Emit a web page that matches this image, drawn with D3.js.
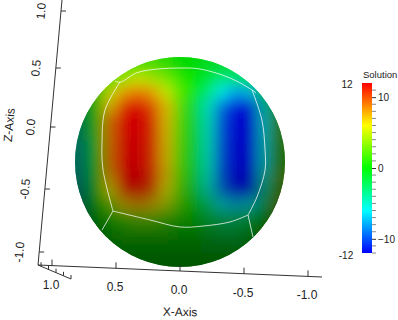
<!DOCTYPE html>
<html>
<head>
<meta charset="utf-8">
<script src="https://cdn.jsdelivr.net/npm/d3@7"></script>
<style>
html, body { margin: 0; padding: 0; background: #fff; }
text { font-family: "Liberation Sans", Arial, sans-serif; fill: #222; }
</style>
</head>
<body>
<svg id="chart" width="398" height="320"></svg>
<script>
const solution = [
  [1, 1, 1, 1, 2, 2, 1, 0, 0, -1, -1, -1, 0, 0, 0],
  [1, 1, 2, 4, 5, 4, 3, 1, 0, -1, -3, -3, -2, -1, 0],
  [-1, 1, 5, 8, 9, 8, 5, 2, 0, -3, -6, -8, -7, -2, 1],
  [-2, 1, 7, 11, 12, 10, 7, 2, -1, -5, -9, -12, -11, -5, 1],
  [-3, 1, 9, 12, 12, 11, 7, 2, -1, -5, -10, -12, -12, -6, 2],
  [-4, 1, 9, 12, 12, 11, 7, 2, -1, -5, -10, -12, -12, -6, 2],
  [-5, 0, 9, 12, 12, 11, 7, 2, -1, -5, -10, -12, -12, -6, 2],
  [-5, 0, 9, 12, 12, 11, 7, 2, -1, -5, -10, -12, -12, -6, 2],
  [-5, 0, 8, 12, 12, 11, 7, 2, -1, -5, -10, -12, -12, -5, 3],
  [-5, 0, 6, 11, 12, 10, 6, 2, -1, -5, -9, -12, -11, -4, 3],
  [-4, 0, 3, 7, 8, 7, 5, 2, 0, -3, -6, -7, -6, -3, 4],
  [-3, 0, 1, 2, 3, 3, 2, 1, 0, -2, -3, -3, -2, 0, 4],
  [-1, 0, 0, 1, 1, 1, 1, 0, 0, -1, -2, -2, -1, 1, 4],
  [0, 0, 0, 0, 0, 0, 0, 0, 0, -1, -1, -1, 0, 1, 2],
  [0, 0, 0, 0, 0, 0, 0, 0, 0, 0, 0, 0, 0, 0, 0]
];
const rowLight = [.85, .9, .9, .85, .82, .8, .78, .76, .72, .66, .6, .52, .44, .38, .34];
const colLight = [.55, .8, .95, 1, 1, 1, 1, 1, 1, 1, 1, 1, .95, .8, .55];

// patch seams in unit sphere coordinates [x, z]
const seams = [
  [[.62, .77], [.57, .76], [.41, .85], [.21, .886], [0, .895], [-.19, .886], [-.476, .8], [-.686, .686], [-.724, .657]],
  [[-.686, .686], [-.78, .4], [-.81, .114], [-.81, -.076], [-.733, -.333], [-.648, -.505]],
  [[-.648, -.505], [-.695, -.714]],
  [[-.648, -.505], [-.476, -.571], [-.219, -.61], [0, -.619], [.286, -.552], [.638, -.467]],
  [[.638, -.467], [.743, -.648]],
  [[.638, -.467], [.733, -.076], [.743, .181], [.714, .495], [.571, .762]]
];

const xTicks = [1, 0.5, 0, -0.5, -1];
const zTicks = [-1, -0.5, 0, 0.5, 1];
const yTicks = [1, 0.75, 0.5, 0.25, 0];
const barMinor = [11, 9, 8, 7, 6, 5, 4, 3, 2, 1, -1, -2, -3, -4, -5, -6, -7, -8, -9, -11, -12];
const barMajor = [10, 0, -10];
const colorStops = [-12, -6, 0, 6, 12];
const colorRange = ["#0000ff", "#00ffff", "#00ff00", "#ffff00", "#ff0000"];

const svg = d3.select("#chart");
const color = d3.scaleLinear().domain(colorStops).range(colorRange);

// sphere
const cx = 180, cy = 162, r = 105;
const sphereX = d3.scaleLinear().domain([1, -1]).range([cx - r, cx + r]);
const sphereZ = d3.scaleLinear().domain([-1, 1]).range([cy + r, cy - r]);
const col = d3.scaleBand().domain(d3.range(colLight.length)).range([cx - r, cx + r]);
const row = d3.scaleBand().domain(d3.range(rowLight.length)).range([cy - r, cy + r]);

const defs = svg.append("defs");
defs.append("clipPath").attr("id", "ball").append("circle")
  .attr("cx", cx).attr("cy", cy).attr("r", r);
defs.append("filter").attr("id", "soft")
  .attr("filterUnits", "userSpaceOnUse")
  .attr("x", 0).attr("y", 0).attr("width", 398).attr("height", 320)
  .append("feGaussianBlur").attr("stdDeviation", 7);

function shaded(v, i, j) {
  const c = d3.rgb(color(v)), k = rowLight[i] * colLight[j];
  return d3.rgb(c.r * k, c.g * k, c.b * k).formatHex();
}

function drawCells(parent) {
  parent.selectAll("g").data(solution).join("g")
    .selectAll("rect").data((d, i) => d.map((v, j) => ({v, i, j}))).join("rect")
    .attr("x", d => col(d.j)).attr("y", d => row(d.i))
    .attr("width", col.bandwidth() + 0.5).attr("height", row.bandwidth() + 0.5)
    .attr("fill", d => shaded(d.v, d.i, d.j));
}

const ball = svg.append("g").attr("clip-path", "url(#ball)");
drawCells(ball.append("g"));
drawCells(ball.append("g").attr("filter", "url(#soft)"));

const seamLine = d3.line().x(d => sphereX(d[0])).y(d => sphereZ(d[1])).curve(d3.curveCatmullRom);
svg.append("g").selectAll("path").data(seams).join("path")
  .attr("d", seamLine).attr("fill", "none")
  .attr("stroke", "#fff").attr("stroke-opacity", 0.75).attr("stroke-width", 1);

// 3d axes
const axisX = d3.scaleLinear().domain([1, -1]).range([52, 308]);
const axisXy = d3.scaleLinear().domain([38, 322]).range([265, 277]);
const axisZ = d3.scaleLinear().domain(zTicks).range([252, 189, 127, 68, 11]);
const axisZx = d3.scaleLinear().domain([265, 0]).range([38, 62]);
const axisY = d3.scaleLinear().domain([1, 0]).range([71, 41]);
const axisYy = d3.scaleLinear().domain([38, 71]).range([265, 279]);

const axes = svg.append("g").attr("stroke", "#333").attr("stroke-width", 1).attr("fill", "none");
axes.append("line").attr("x1", 38).attr("y1", 265).attr("x2", 322).attr("y2", 277);
axes.append("line").attr("x1", 38).attr("y1", 265).attr("x2", 62).attr("y2", 0);
axes.append("line").attr("x1", 38).attr("y1", 265).attr("x2", 71).attr("y2", 279);

axes.selectAll(".xt").data(xTicks).join("line").attr("class", "xt")
  .attr("x1", d => axisX(d)).attr("x2", d => axisX(d))
  .attr("y1", d => axisXy(axisX(d))).attr("y2", d => axisXy(axisX(d)) - 6);
axes.selectAll(".zt").data(zTicks).join("line").attr("class", "zt")
  .attr("x1", d => axisZx(axisZ(d))).attr("x2", d => axisZx(axisZ(d)) + 5)
  .attr("y1", d => axisZ(d)).attr("y2", d => axisZ(d));
axes.selectAll(".yt").data(yTicks).join("line").attr("class", "yt")
  .attr("x1", d => axisY(d)).attr("x2", d => axisY(d))
  .attr("y1", d => axisYy(axisY(d))).attr("y2", d => axisYy(axisY(d)) - 4);

const fmt = d3.format(".1f");
svg.append("g").selectAll("text").data(xTicks).join("text")
  .attr("x", d => axisX(d) - 1)
  .attr("y", d => axisXy(axisX(d)) + 23)
  .attr("text-anchor", "middle").attr("font-size", 12)
  .text(d => fmt(d).replace("\u2212", "-"));
svg.append("g").selectAll("text").data(zTicks).join("text")
  .attr("text-anchor", "middle").attr("font-size", 12)
  .attr("transform", d => `translate(${axisZx(axisZ(d)) - 20},${axisZ(d)}) rotate(-85)`)
  .attr("dy", "0.35em")
  .text(d => fmt(d).replace("\u2212", "-"));
svg.append("text").attr("text-anchor", "middle").attr("font-size", 12)
  .attr("transform", "translate(180,316) rotate(1)").text("X-Axis");
svg.append("text").attr("text-anchor", "middle").attr("font-size", 12)
  .attr("transform", "translate(9,125) rotate(-85)").attr("dy", "0.35em").text("Z-Axis");

// colorbar
const barY = d3.scaleLinear().domain([12, -12]).range([83, 253]);
const grad = defs.append("linearGradient").attr("id", "bar")
  .attr("x1", 0).attr("y1", 1).attr("x2", 0).attr("y2", 0);
grad.selectAll("stop").data(colorStops).join("stop")
  .attr("offset", d => (d + 12) / 24)
  .attr("stop-color", d => color(d));
svg.append("rect").attr("x", 362).attr("width", 10)
  .attr("y", barY(12)).attr("height", barY(-12) - barY(12))
  .attr("fill", "url(#bar)");

const legend = svg.append("g").attr("transform", "translate(372,0)");
legend.call(d3.axisRight(barY).tickValues(barMajor).tickSize(4).tickFormat(d3.format("d")))
  .call(g => g.select(".domain").remove())
  .call(g => g.selectAll("text").attr("font-size", 10).attr("font-family", null).attr("x", 6))
  .call(g => g.selectAll("line").attr("stroke", "#333"));
legend.selectAll(".minor").data(barMinor).join("line").attr("class", "minor")
  .attr("x1", 0).attr("x2", 4)
  .attr("y1", d => barY(d)).attr("y2", d => barY(d))
  .attr("stroke", "#888");

svg.append("text").attr("x", 363).attr("y", 78).attr("font-size", 9.5).text("Solution");
svg.append("text").attr("x", 347).attr("y", 84).attr("dy", "0.35em").attr("text-anchor", "middle").attr("font-size", 10).text("12");
svg.append("text").attr("x", 346).attr("y", 255).attr("dy", "0.35em").attr("text-anchor", "middle").attr("font-size", 10).text("-12");
</script>
</body>
</html>
